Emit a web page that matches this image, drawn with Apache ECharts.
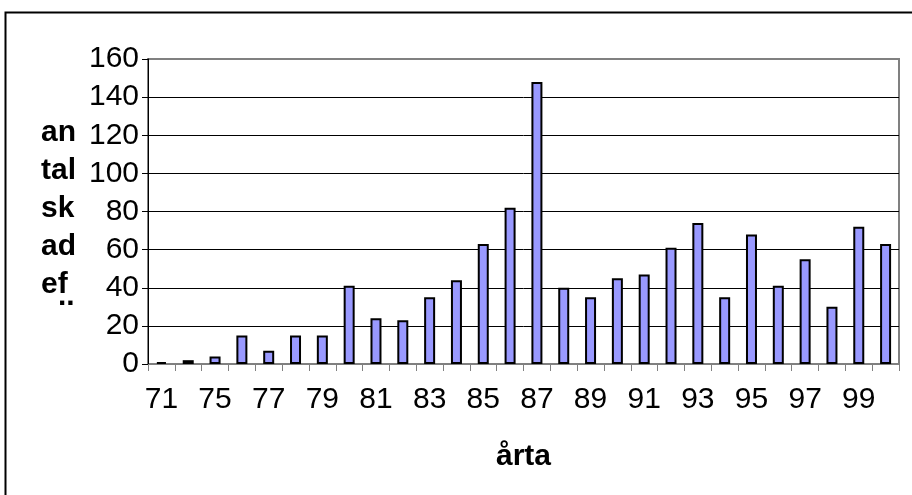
<!DOCTYPE html>
<html>
<head>
<meta charset="utf-8">
<script src="https://cdn.jsdelivr.net/npm/echarts@6/dist/echarts.min.js"></script>
<style>
  html, body { margin: 0; padding: 0; background: #fff; }
  #chart { width: 912px; height: 495px; }
</style>
</head>
<body>
<div id="chart"></div>
<script>
// Years (two-digit) and number of damage cases per year
const years = ['71', '73', '75', '76', '77', '78', '79', '80', '81', '82', '83', '84', '85', '86',
               '87', '88', '89', '90', '91', '92', '93', '94', '95', '96', '97', '98', '99', '00'];
const cases = [1, 2, 4, 15, 7, 15, 15, 41, 24, 23, 35, 44, 63, 82,
               148, 40, 35, 45, 47, 61, 74, 35, 68, 41, 55, 30, 72, 63];
const yTicks = [0, 20, 40, 60, 80, 100, 120, 140, 160];
// value-axis title, wrapped into a narrow column
const yTitleLines = ['an', 'tal', 'sk', 'ad', 'ef'];
const xTitle = 'årta';

const FONT = '"Liberation Sans", Arial, sans-serif';

const chart = echarts.init(document.getElementById('chart'), null, { renderer: 'canvas' });

// gridlines are black except the top one, which sits on the grey plot border
const splitColors = yTicks.map((v, i) => i === yTicks.length - 1 ? 'rgba(0,0,0,0)' : '#000000');

chart.setOption({
  animation: false,
  backgroundColor: '#ffffff',
  graphic: [
    {
      type: 'rect',
      shape: { x: 5.5, y: 12.5, width: 1000, height: 1000 },
      style: { fill: 'none', stroke: '#000000', lineWidth: 2 },
      z: 0
    },
    {
      type: 'text',
      left: 41,
      top: 114,
      style: {
        text: yTitleLines.join('\n'),
        font: 'bold 30px ' + FONT,
        lineHeight: 38,
        align: 'left',
        fill: '#000000'
      },
      z: 10
    },
    {
      type: 'text',
      left: 58,
      top: 282,
      style: { text: '..', font: 'bold 30px ' + FONT, fill: '#000000' },
      z: 10
    }
  ],
  grid: {
    left: 148, right: 13, top: 59, bottom: 131,
    show: true,
    borderColor: '#808080',
    borderWidth: 2,
    backgroundColor: 'transparent'
  },
  xAxis: {
    type: 'category',
    data: years,
    boundaryGap: true,
    name: xTitle,
    nameLocation: 'middle',
    nameGap: 78,
    nameTextStyle: { fontFamily: FONT, fontSize: 30, fontWeight: 'bold', color: '#000000' },
    axisLine: { show: true, lineStyle: { color: '#808080', width: 1 } },
    axisTick: { show: true, alignWithLabel: false, interval: 0, length: 7, lineStyle: { color: '#808080', width: 1 } },
    axisLabel: { interval: 1, margin: 21, fontFamily: FONT, fontSize: 30, color: '#000000' },
    splitLine: { show: false }
  },
  yAxis: {
    type: 'value',
    min: 0,
    max: 160,
    interval: 20,
    axisLine: { show: true, lineStyle: { color: '#000000', width: 1 } },
    axisTick: { show: true, length: 6, lineStyle: { color: '#000000', width: 1 } },
    axisLabel: { margin: 9, fontFamily: FONT, fontSize: 30, color: '#000000' },
    splitLine: { show: true, lineStyle: { color: splitColors, width: 1 } }
  },
  series: [{
    type: 'bar',
    data: cases,
    barWidth: 11,
    itemStyle: { color: '#9999FF', borderColor: '#000000', borderWidth: 2 },
    z: 5
  }]
});
</script>
</body>
</html>
